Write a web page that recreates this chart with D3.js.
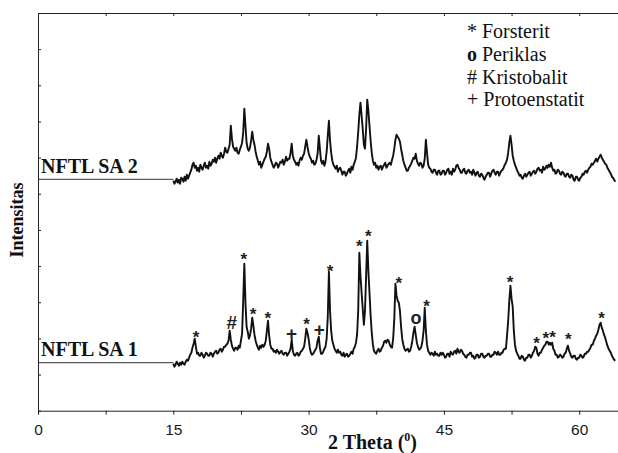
<!DOCTYPE html>
<html>
<head>
<meta charset="utf-8">
<script src="https://cdnjs.cloudflare.com/ajax/libs/d3/7.8.5/d3.min.js"></script>
<style>
	body { margin: 0; background: #fff; }
</style>
</head>
<body>
<div id="chart"></div>
<script>
"use strict";

// scan grid (2 theta, degrees)
var thetaStart = 15;
var thetaStep = 0.125;

// NFTL SA 2 (upper pattern), one row per degree, 15.000 .. 64.000
var sa2Values = [
	230, 227, 229, 232, 228, 231, 227, 233,
	232, 229, 234, 230, 236, 232, 235, 238,
	241, 246, 248, 243, 245, 240, 243, 239,
	246, 243, 241, 245, 248, 243, 245, 242,
	249, 245, 247, 251, 249, 253, 248, 252,
	255, 252, 258, 255, 253, 257, 263, 259,
	258, 262, 266, 285, 272, 264, 262, 260,
	263, 258, 257, 261, 264, 268, 278, 302,
	285, 268, 262, 260, 263, 270, 279, 271,
	266, 259, 254, 250, 246, 249, 243, 246,
	249, 252, 254, 259, 267, 262, 253, 249,
	246, 243, 245, 248, 247, 243, 246, 249,
	248, 251, 246, 249, 254, 250, 252, 252,
	258, 267, 255, 251, 249, 246, 248, 245,
	250, 253, 251, 255, 257, 264, 271, 264,
	258, 254, 252, 248, 250, 246, 247, 251,
	257, 275, 262, 250, 247, 250, 245, 249,
	259, 275, 290, 270, 258, 250, 246, 244,
	242, 245, 239, 242, 243, 240, 236, 239,
	239, 235, 237, 240, 242, 238, 244, 241,
	246, 249, 253, 264, 279, 296, 308, 295,
	282, 266, 262, 282, 311, 300, 285, 270,
	258, 250, 246, 248, 243, 245, 241, 244,
	245, 241, 244, 246, 248, 243, 245, 247,
	248, 246, 251, 255, 262, 271, 276, 274,
	272, 269, 262, 256, 250, 246, 243, 240,
	240, 243, 245, 247, 250, 253, 252, 257,
	250, 247, 245, 248, 247, 243, 245, 252,
	271, 258, 246, 243, 242, 239, 238, 241,
	241, 238, 236, 240, 240, 236, 237, 240,
	240, 236, 238, 241, 242, 237, 239, 236,
	242, 239, 241, 245, 246, 243, 241, 238,
	238, 241, 242, 238, 237, 240, 241, 238,
	239, 236, 241, 238, 235, 238, 239, 235,
	234, 237, 236, 233, 231, 234, 236, 238,
	238, 234, 237, 240, 241, 238, 236, 239,
	239, 235, 238, 240, 241, 243, 246, 248,
	251, 258, 268, 275, 266, 255, 250, 246,
	243, 240, 238, 235, 236, 233, 232, 235,
	237, 234, 236, 238, 239, 235, 237, 239,
	240, 237, 239, 242, 243, 240, 241, 238,
	244, 241, 242, 245, 243, 246, 244, 248,
	243, 240, 241, 237, 238, 241, 240, 237,
	236, 239, 238, 235, 234, 237, 237, 234,
	233, 236, 235, 231, 230, 234, 234, 231,
	230, 233, 234, 237, 236, 239, 240, 238,
	241, 243, 244, 247, 246, 248, 250, 252,
	249, 252, 254, 256, 253, 251, 249, 247,
	246, 243, 241, 239, 237, 234, 233, 231,
	229
];

// NFTL SA 1 (lower pattern)
var sa1Values = [
	47, 44, 46, 49, 47, 45, 48, 46,
	49, 47, 46, 49, 51, 50, 53, 56,
	58, 63, 67, 72, 64, 57, 58, 55,
	55, 58, 56, 53, 55, 58, 57, 55,
	55, 58, 57, 54, 57, 59, 60, 57,
	58, 61, 62, 59, 61, 64, 64, 66,
	67, 70, 80, 71, 65, 62, 60, 63,
	63, 61, 65, 63, 70, 77, 110, 147,
	108, 84, 79, 72, 75, 82, 93, 85,
	76, 70, 66, 63, 61, 65, 63, 66,
	64, 66, 70, 80, 90, 75, 66, 62,
	62, 59, 60, 58, 61, 59, 57, 59,
	60, 57, 56, 58, 58, 55, 57, 59,
	62, 71, 60, 56, 55, 57, 58, 55,
	56, 59, 60, 62, 64, 72, 82, 78,
	72, 63, 58, 56, 57, 59, 61, 63,
	70, 74, 63, 57, 57, 59, 62, 64,
	72, 94, 139, 100, 80, 70, 66, 62,
	60, 58, 61, 58, 59, 56, 55, 58,
	54, 56, 57, 54, 55, 57, 59, 57,
	62, 64, 68, 76, 100, 158, 135, 118,
	102, 86, 100, 135, 170, 140, 118, 95,
	78, 66, 60, 58, 57, 60, 62, 59,
	60, 63, 65, 69, 70, 68, 71, 70,
	66, 64, 63, 72, 92, 127, 115, 110,
	108, 100, 84, 72, 66, 62, 60, 61,
	62, 59, 60, 64, 70, 78, 84, 76,
	68, 64, 61, 62, 64, 70, 80, 103,
	80, 66, 60, 58, 56, 58, 57, 55,
	59, 56, 57, 55, 55, 58, 56, 58,
	56, 53, 54, 57, 57, 54, 59, 57,
	56, 59, 60, 57, 62, 59, 58, 61,
	60, 57, 56, 54, 53, 56, 56, 58,
	58, 54, 55, 52, 53, 56, 56, 53,
	54, 57, 57, 54, 53, 55, 55, 57,
	57, 54, 54, 56, 56, 59, 58, 56,
	59, 56, 56, 58, 58, 61, 62, 62,
	75, 90, 110, 125, 112, 104, 80, 66,
	60, 57, 55, 52, 52, 55, 54, 51,
	50, 53, 53, 56, 56, 53, 55, 58,
	60, 64, 63, 57, 55, 58, 58, 61,
	63, 65, 66, 69, 69, 66, 68, 66,
	68, 62, 60, 56, 56, 53, 54, 56,
	55, 53, 54, 57, 58, 62, 65, 60,
	57, 54, 53, 55, 55, 52, 51, 53,
	53, 56, 55, 53, 54, 57, 57, 59,
	59, 61, 63, 66, 66, 70, 72, 75,
	77, 81, 86, 88, 83, 80, 76, 73,
	69, 65, 62, 60, 58, 55, 53, 51,
	50
];

var seriesNames = ["NFTL SA 1", "NFTL SA 2"];
var seriesOffsets = [48, 231.4];

// phase marks on SA 1 (2 theta, symbol, level)
var markTheta = [17.51, 21.47, 22.83, 23.83, 25.49, 28.12, 29.78, 31.18, 32.37, 35.61,
	36.61, 40.01, 41.9, 43.08, 52.32, 55.28, 56.31, 57.05, 58.78, 62.48];
var markSymbol = ["*", "#", "*", "*", "*", "+", "*", "+", "*", "*",
	"*", "*", "o", "*", "*", "*", "*", "*", "*", "*"];
var markLevel = [77.7, 88.4, 155.7, 100.7, 96.7, 77.4, 90.7, 81.4, 144, 169,
	179, 131.4, 91.7, 108.4, 132.4, 71.4, 76.4, 77.4, 75.7, 96.4];

var legendSymbols = ["*", "o", "#", "+"];
var legendNames = ["Forsterit", "Periklas", "Kristobalit", "Protoenstatit"];

var xTicks = [0, 7.5, 15, 22.5, 30, 37.5, 45, 52.5, 60];
var xLabelTicks = [0, 15, 30, 45, 60];

var width = 618;
var height = 453;
var margin = {top: 13, right: 0, bottom: 42.3, left: 38};

var serif = "'Liberation Serif', 'Times New Roman', serif";
var sans = "'Liberation Sans', Arial, sans-serif";

var svg = d3.select("#chart").append("svg")
	.attr("width", width)
	.attr("height", height);

var x = d3.scaleLinear()
	.domain([0, 64.3])
	.range([margin.left, width - margin.right]);

var y = d3.scaleLinear()
	.domain([0, 397.7])
	.range([height - margin.bottom, margin.top]);

function toPoints(values) {
	return values.map(function(v, i) { return {theta: thetaStart + i * thetaStep, value: v}; });
}

var series = [toPoints(sa1Values), toPoints(sa2Values)];

var line = d3.line()
	.x(function(d) { return x(d.theta); })
	.y(function(d) { return y(d.value); });

// axes
var xAxis = d3.axisBottom(x)
	.tickValues(xTicks)
	.tickSize(4)
	.tickSizeOuter(0)
	.tickPadding(9.5)
	.tickFormat(function(d) { return xLabelTicks.indexOf(d) >= 0 ? d : ""; });

var gx = svg.append("g")
	.attr("class", "axis--x")
	.attr("transform", "translate(0," + y(0) + ")")
	.call(xAxis);

svg.append("g")
	.attr("class", "axis--top")
	.attr("transform", "translate(0," + y.range()[1] + ")")
	.call(d3.axisTop(x).tickValues(xTicks).tickSize(-3).tickSizeOuter(0).tickFormat(""));

var yTicks = d3.range(0, 12).map(function(i) { return i * 397.7 / 11; });

svg.append("g")
	.attr("class", "axis--y")
	.attr("transform", "translate(" + x(0) + ",0)")
	.call(d3.axisLeft(y).tickValues(yTicks).tickSize(-3).tickSizeOuter(0).tickFormat(""));

svg.selectAll(".axis--x, .axis--top, .axis--y").selectAll("path, line")
	.attr("stroke", "#222")
	.attr("stroke-width", 1);

gx.selectAll("text")
	.attr("font-family", sans)
	.attr("font-size", "15.5px")
	.attr("fill", "#1a1a1a");

// flat lead-in lines from 0 to scan start
svg.selectAll("line.lead")
	.data(seriesOffsets)
	.enter()
	.append("line")
	.attr("class", "lead")
	.attr("x1", x(0))
	.attr("x2", x(thetaStart))
	.attr("y1", function(d) { return y(d); })
	.attr("y2", function(d) { return y(d); })
	.attr("stroke", "#333")
	.attr("stroke-width", 1);

svg.selectAll("path.trace")
	.data(series)
	.enter()
	.append("path")
	.attr("class", "trace")
	.attr("d", line)
	.attr("fill", "none")
	.attr("stroke", "#111")
	.attr("stroke-width", 1.9)
	.attr("stroke-linejoin", "round");

svg.selectAll("text.series")
	.data(seriesNames)
	.enter()
	.append("text")
	.attr("class", "series")
	.attr("x", x(0) + 3)
	.attr("y", function(d, i) { return y(seriesOffsets[i]) - 6.5; })
	.attr("font-family", serif)
	.attr("font-weight", "bold")
	.attr("font-size", "20px")
	.attr("fill", "#111")
	.text(function(d) { return d; });

// peak marks
var markStyle = {
	"*": {size: 17, dy: 0.58},
	"#": {size: 19, dy: 0.35},
	"+": {size: 19, dy: 0.35},
	"o": {size: 18, dy: 0.27}
};

svg.selectAll("text.mark")
	.data(markTheta)
	.enter()
	.append("text")
	.attr("class", "mark")
	.attr("x", function(d) { return x(d); })
	.attr("y", function(d, i) { return y(markLevel[i]); })
	.attr("dy", function(d, i) { return markStyle[markSymbol[i]].dy + "em"; })
	.attr("text-anchor", "middle")
	.attr("font-family", sans)
	.attr("font-weight", "bold")
	.attr("font-size", function(d, i) { return markStyle[markSymbol[i]].size + "px"; })
	.attr("fill", "#222")
	.text(function(d, i) { return markSymbol[i]; });

// legend
var legend = svg.selectAll("text.legend")
	.data(legendNames)
	.enter()
	.append("text")
	.attr("class", "legend")
	.attr("x", 467)
	.attr("y", function(d, i) { return 38.3 + i * 22.6; })
	.attr("font-family", serif)
	.attr("font-size", "20px")
	.attr("fill", "#111");

legend.append("tspan")
	.attr("font-weight", function(d, i) { return legendSymbols[i] === "o" ? "bold" : "normal"; })
	.text(function(d, i) { return legendSymbols[i]; });

legend.append("tspan")
	.text(function(d) { return " " + d; });

// axis titles
var xTitle = svg.append("text")
	.attr("x", 328)
	.attr("y", 449)
	.attr("font-family", serif)
	.attr("font-weight", "bold")
	.attr("font-size", "20px")
	.attr("fill", "#111");

xTitle.append("tspan").text("2 Theta (");
xTitle.append("tspan").attr("font-size", "12px").attr("dy", -8).text("0");
xTitle.append("tspan").attr("dy", 8).text(")");

svg.append("text")
	.attr("transform", "translate(23,220) rotate(-90)")
	.attr("text-anchor", "middle")
	.attr("font-family", serif)
	.attr("font-weight", "bold")
	.attr("font-size", "18px")
	.attr("fill", "#111")
	.text("Intensitas");
</script>
</body>
</html>
